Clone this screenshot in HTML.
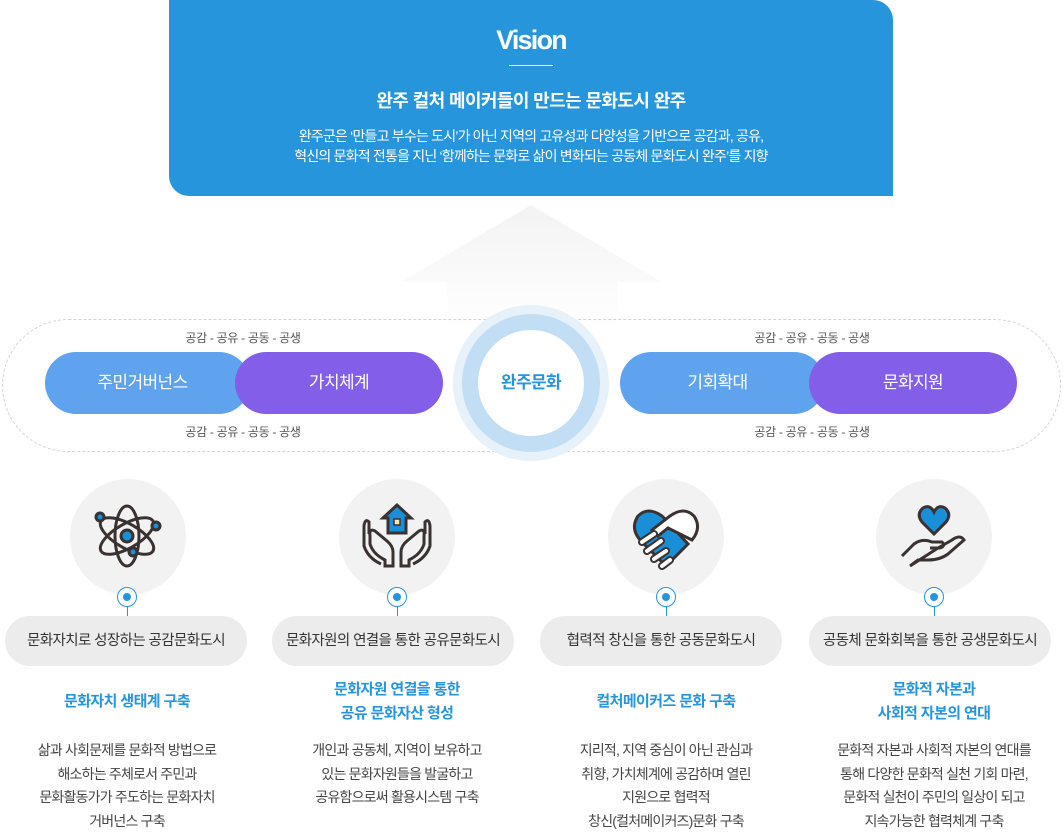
<!DOCTYPE html>
<html><head><meta charset="utf-8"><style>
*{margin:0;padding:0;box-sizing:border-box}
body{width:1063px;height:836px;background:#fff;position:relative;overflow:hidden;font-family:"Liberation Sans","Noto Sans CJK KR",sans-serif;letter-spacing:-0.6px}
.a{position:absolute}
.vis{left:169px;top:0;width:724px;height:196px;background:#2795dc;border-radius:0 20px 0 20px;color:#fff;text-align:center}
.pill{position:absolute;height:62px;border-radius:31px;color:#fff;font-size:17px;line-height:62px;text-align:center}
.lab{position:absolute;font-size:12px;color:#555;width:200px;text-align:center;letter-spacing:-0.3px}
.gc{position:absolute;width:116px;height:116px;border-radius:50%;background:#f2f2f2;top:479px}
.dot{position:absolute;top:587px;width:20px;height:20px;border-radius:50%;border:1.5px solid #2795dc;background:#fff}
.dot:after{content:"";position:absolute;left:4.5px;top:4.5px;width:8px;height:8px;border-radius:50%;background:#2795dc}
.vl{position:absolute;top:606px;width:1.5px;height:11px;background:#2795dc}
.bp{position:absolute;top:616px;width:242px;height:50px;border-radius:25px;background:#ececec;font-size:14.5px;color:#333;line-height:50px;text-align:center}
.tt{position:absolute;width:260px;text-align:center;color:#2795dc;font-weight:bold;font-size:15px;line-height:24px}
.bd{position:absolute;top:739px;width:260px;text-align:center;color:#444;font-size:14px;line-height:23.7px;letter-spacing:-0.8px}
</style></head><body>
<div class="a vis">
<div style="position:absolute;top:25px;width:100%;font-size:27px;font-weight:bold;letter-spacing:-1.8px">Vision</div>
<div style="position:absolute;top:65px;left:340px;width:44px;height:1px;background:#fff"></div>
<div style="position:absolute;top:87px;width:100%;font-size:18px;font-weight:bold">완주 컬처 메이커들이 만드는 문화도시 완주</div>
<div style="position:absolute;top:126px;width:100%;font-size:14px;line-height:20px;letter-spacing:-0.8px">완주군은 ‘만들고 부수는 도시’가 아닌 지역의 고유성과 다양성을 기반으로 공감과, 공유,<br>혁신의 문화적 전통을 지닌 ‘함께하는 문화로 삶이 변화되는 공동체 문화도시 완주’를 지향</div>
</div>
<svg class="a" style="left:0;top:200px" width="1063" height="130">
<defs><linearGradient id="g" x1="0" y1="0" x2="0" y2="1"><stop offset="0" stop-color="#f3f3f3"/><stop offset="1" stop-color="#f3f3f3" stop-opacity="0"/></linearGradient></defs>
<polygon points="531,5 662,82 618,82 618,130 447,130 447,82 401,82" fill="url(#g)"/>
</svg>
<div class="a" style="left:2px;top:319px;width:1059px;height:133px;border:1px dashed #d4d4d4;border-radius:67px"></div>
<div class="pill" style="left:45px;top:352px;width:205px;background:#5fa3ee;padding-right:10px">주민거버넌스</div>
<div class="pill" style="left:235px;top:352px;width:208px;background:#835ee9">가치체계</div>
<div class="pill" style="left:620px;top:352px;width:205px;background:#5fa3ee;padding-right:10px">기회확대</div>
<div class="pill" style="left:809px;top:352px;width:208px;background:#835ee9">문화지원</div>
<div class="lab" style="left:143px;top:329px">공감 - 공유 - 공동 - 공생</div>
<div class="lab" style="left:143px;top:423px">공감 - 공유 - 공동 - 공생</div>
<div class="lab" style="left:712px;top:329px">공감 - 공유 - 공동 - 공생</div>
<div class="lab" style="left:712px;top:423px">공감 - 공유 - 공동 - 공생</div>
<div class="a" style="left:453px;top:305px;width:156px;height:156px;border-radius:50%;background:#e6f1fa"></div>
<div class="a" style="left:462px;top:314px;width:138px;height:138px;border-radius:50%;background:#c1def4"></div>
<div class="a" style="left:478px;top:330px;width:106px;height:106px;border-radius:50%;background:#fff;color:#2795dc;font-size:17px;font-weight:bold;line-height:106px;text-align:center">완주문화</div>

<div class="gc" style="left:70px"></div><div class="gc" style="left:339px"></div><div class="gc" style="left:608px"></div><div class="gc" style="left:876px"></div>
<svg class="a" style="left:0;top:479px" width="1063" height="116" fill="none" stroke="#3a3230" stroke-width="3">
<g transform="translate(127,57)">
<ellipse rx="30" ry="12" transform="rotate(30)"/><ellipse rx="30" ry="12" transform="rotate(-30)"/><ellipse rx="30" ry="12" transform="rotate(90)"/>
<circle r="6" fill="#1a8fd8"/><circle cx="-27" cy="-19" r="4" fill="#1a8fd8"/><circle cx="29" cy="-10" r="4" fill="#1a8fd8"/><circle cx="6" cy="16" r="4" fill="#1a8fd8"/>
</g>
<g transform="translate(397,57)">
<path d="M0,-31 L-14,-18 L-9,-18 L-9,-3 L9,-3 L9,-18 L14,-18 Z" fill="#1a8fd8"/><rect x="-3" y="-17" width="6" height="6" fill="#f5e9b0" stroke-width="1.5"/>
<path d="M-10,5 L-22,-5 Q-28,-8 -27,0 L-27,8 Q-24,18 -12,24 L-12,30 L-4,30 L-4,16 Q-4,10 -10,5 M-28,-2 L-28,-14 Q-32,-18 -33,-10 L-33,10 Q-29,22 -16,28"/>
<path d="M10,5 L22,-5 Q28,-8 27,0 L27,8 Q24,18 12,24 L12,30 L4,30 L4,16 Q4,10 10,5 M28,-2 L28,-14 Q32,-18 33,-10 L33,10 Q29,22 16,28"/>
</g>
<g transform="translate(666,57)">
<path d="M0,30 L-26,4 Q-36,-8 -28,-20 Q-18,-30 -4,-20 L0,-16 L22,8 Z" fill="#1a8fd8"/>
<path d="M26,4 Q36,-8 28,-20 Q18,-30 4,-20 L-14,-6 L-8,0 L2,-8 L26,4 Z" fill="#fff"/>
<path d="M-24,6 l12,-8 M-19,15 l14,-10 M-12,23 l12,-8 M-4,30 l8,-6" stroke-width="8" stroke-linecap="round" stroke="#3a3230"/>
<path d="M-24,6 l12,-8 M-19,15 l14,-10 M-12,23 l12,-8 M-4,30 l8,-6" stroke-width="4" stroke-linecap="round" stroke="#fff"/>
</g>
<g transform="translate(934,57)">
<path d="M0,-2 L-12,-14 Q-18,-22 -11,-28 Q-4,-32 0,-24 Q4,-32 11,-28 Q18,-22 12,-14 Z" fill="#1a8fd8"/>
<path d="M-32,20 L-20,8 Q-12,2 -2,6 L8,6 Q12,10 6,12 L-4,12 M4,12 L18,4 Q26,-2 30,4 L14,18 Q6,24 -6,24 L-16,24 L-24,30 Z"/>
</g>
</svg>
<div class="dot" style="left:117px"></div><div class="dot" style="left:387px"></div><div class="dot" style="left:656px"></div><div class="dot" style="left:924px"></div>
<div class="vl" style="left:126.5px"></div><div class="vl" style="left:396.5px"></div><div class="vl" style="left:665.5px"></div><div class="vl" style="left:933.5px"></div>
<div class="bp" style="left:5px">문화자치로 성장하는 공감문화도시</div>
<div class="bp" style="left:272px">문화자원의 연결을 통한 공유문화도시</div>
<div class="bp" style="left:540px">협력적 창신을 통한 공동문화도시</div>
<div class="bp" style="left:809px">공동체 문화회복을 통한 공생문화도시</div>
<div class="tt" style="left:-3px;top:690px">문화자치 생태계 구축</div>
<div class="tt" style="left:267px;top:678px">문화자원 연결을 통한<br>공유 문화자산 형성</div>
<div class="tt" style="left:536px;top:690px">컬처메이커즈 문화 구축</div>
<div class="tt" style="left:804px;top:678px">문화적 자본과<br>사회적 자본의 연대</div>
<div class="bd" style="left:-3px">삶과 사회문제를 문화적 방법으로<br>해소하는 주체로서 주민과<br>문화활동가가 주도하는 문화자치<br>거버넌스 구축</div>
<div class="bd" style="left:267px">개인과 공동체, 지역이 보유하고<br>있는 문화자원들을 발굴하고<br>공유함으로써 활용시스템 구축</div>
<div class="bd" style="left:536px">지리적, 지역 중심이 아닌 관심과<br>취향, 가치체계에 공감하며 열린<br>지원으로 협력적<br>창신(컬처메이커즈)문화 구축</div>
<div class="bd" style="left:804px">문화적 자본과 사회적 자본의 연대를<br>통해 다양한 문화적 실천 기회 마련,<br>문화적 실천이 주민의 일상이 되고<br>지속가능한 협력체계 구축</div>
</body></html>
